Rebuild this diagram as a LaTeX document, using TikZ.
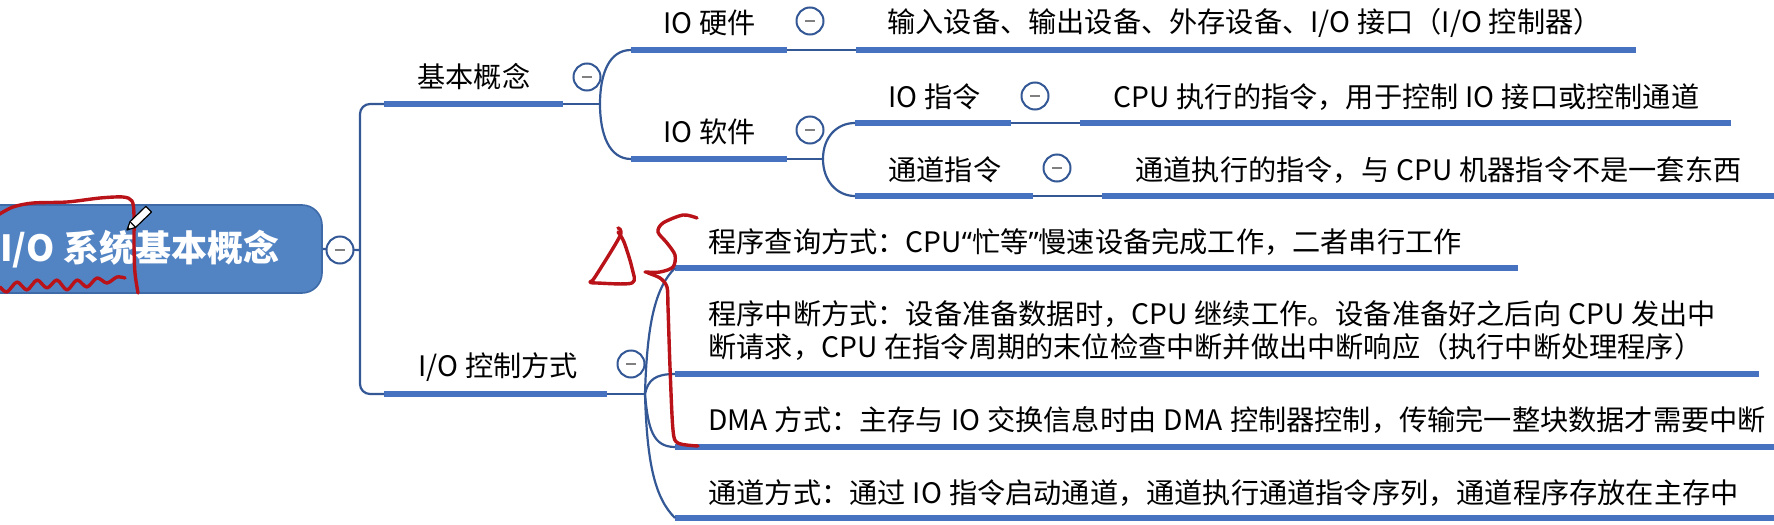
\documentclass[tikz,border=0pt]{standalone}
\usepackage{fontspec}
\usepackage{xcolor}
\usetikzlibrary{positioning,calc}
\newfontfamily\cjk{Noto Sans CJK SC}
\newfontfamily\quotefont{Noto Sans}
\newcommand{\kgap}{\hspace{0.25em}}
\definecolor{barblue}{RGB}{70,114,192}
\definecolor{linkblue}{RGB}{52,88,150}
\definecolor{rootblue}{RGB}{82,132,196}
\definecolor{rootedge}{RGB}{62,106,168}
\definecolor{inkred}{RGB}{185,18,24}
\tikzset{
	bar/.style={line width=3.4pt,barblue},
	link/.style={line width=1.1pt,linkblue},
	topic/.style={anchor=west,inner sep=0pt,font=\cjk\fontsize{14.1}{16.5}\selectfont},
	fold/.style={circle,draw=linkblue,line width=1pt,fill=white,minimum size=13.5pt,inner sep=0pt,
		path picture={\draw[gray,line width=1.3pt] ([xshift=-2.6pt]path picture bounding box.center) -- ([xshift=2.6pt]path picture bounding box.center);}},
	rootbox/.style={rounded corners=10pt,fill=rootblue,draw=rootedge,line width=0.8pt,minimum width=182pt,minimum height=44pt,text=white,font=\cjk\bfseries\fontsize{18}{20}\selectfont},
	ink/.style={inkred,line width=1.7pt,line cap=round,line join=round},
}

\begin{document}
\begin{tikzpicture}[x=0.5pt,y=-0.5pt]
	\useasboundingbox (0,0) rectangle (1774,525);
	\clip (0,0) rectangle (1774,525);
	\fill[white] (0,0) rectangle (1774,525);
	%%%%% root
	\node[rootbox] (sys) at (140,249) {I/O\kgap 系统基本概念};
	\coordinate (trunk) at (360,250);
	\coordinate (jc) at (600,104);
	\coordinate (js) at (823,159);
	\coordinate (jk) at (645,394);
	%%%%% topics
	\node[topic] (concept) at (417,77) {基本概念};
	\node[topic] (ctrl) at (418,367) {I/O\kgap 控制方式};
	\node[topic] (hw) at (663,23) {IO\kgap 硬件};
	\node[topic] (sw) at (663,132) {IO\kgap 软件};
	\node[topic] (hwtxt) at (887,23) {输入设备、输出设备、外存设备、I/O\kgap 接口（I/O\kgap 控制器）};
	\node[topic] (ioi) at (888,97) {IO\kgap 指令};
	\node[topic] (chi) at (888,170) {通道指令};
	\node[topic] (ioitxt) at (1113,97) {CPU\kgap 执行的指令，用于控制\kgap IO\kgap 接口或控制通道};
	\node[topic] (chitxt) at (1135,170) {通道执行的指令，与\kgap CPU\kgap 机器指令不是一套东西};
	\node[topic] (poll) at (708,242) {程序查询方式：CPU{\quotefont “}忙等{\quotefont ”}慢速设备完成工作，二者串行工作};
	\node[topic,align=left] (intr) at (708,331) {程序中断方式：设备准备数据时，CPU\kgap 继续工作。设备准备好之后向\kgap CPU\kgap 发出中\\断请求，CPU\kgap 在指令周期的末位检查中断并做出中断响应（执行中断处理程序）};
	\node[topic] (dma) at (708,420) {DMA\kgap 方式：主存与\kgap IO\kgap 交换信息时由\kgap DMA\kgap 控制器控制，传输完一整块数据才需要中断};
	\node[topic] (chan) at (708,493) {通道方式：通过\kgap IO\kgap 指令启动通道，通道执行通道指令序列，通道程序存放在主存中};
	%%%%% underline bars
	\foreach \n/\a/\b/\y in {concept/384/563/104, ctrl/384/607/394, hw/631/787/50, sw/631/787/159,
		hwtxt/856/1636/50, ioi/855/1011/123, chi/855/1033/196, ioitxt/1080/1731/123, chitxt/1102/1790/196,
		poll/675/1518/268, intr/675/1759/374, dma/675/1790/447, chan/675/1790/518}{
		\coordinate (\n-a) at (\a,\y);
		\coordinate (\n-b) at (\b,\y);
		\draw[bar] (\n-a) -- (\n-b);
	}
	%%%%% links
	\draw[link] (sys.east) -- (trunk);
	\draw[link,rounded corners=5pt] (concept-a) -| (trunk) |- (ctrl-a);
	\draw[link] (concept-b) -- (jc);
	\draw[link] (jc) .. controls +(0,-30) and +(-22,0) .. (hw-a);
	\draw[link] (jc) .. controls +(0,30) and +(-22,0) .. (sw-a);
	\draw[link] (hw-b) -- (hwtxt-a);
	\draw[link] (sw-b) -- (js);
	\draw[link] (js) .. controls +(0,-22) and +(-18,0) .. (ioi-a);
	\draw[link] (js) .. controls +(0,22) and +(-18,0) .. (chi-a);
	\draw[link] (ioi-b) -- (ioitxt-a);
	\draw[link] (chi-b) -- (chitxt-a);
	\draw[link] (ctrl-b) -- (jk);
	\draw[link] (jk) .. controls +(2,-70) and +(-20,20) .. (poll-a);
	\draw[link] (jk) .. controls +(3,-14) and +(-20,0) .. (intr-a);
	\draw[link] (jk) .. controls +(3,35) and +(-22,0) .. (dma-a);
	\draw[link] (jk) .. controls +(2,70) and +(-20,-20) .. (chan-a);
	%%%%% fold buttons
	\node[fold] (sysfold) at (340,250) {};
	\node[fold] (conceptfold) at (587,77) {};
	\node[fold] (ctrlfold) at (631,364) {};
	\node[fold] (hwfold) at (810,21) {};
	\node[fold] (swfold) at (810,130) {};
	\node[fold] (ioifold) at (1035,96) {};
	\node[fold] (chifold) at (1057,168) {};
	%%%%% red pen marks
	\draw[ink] plot[smooth] coordinates {(-2,215) (13,207) (33,203) (67,202) (100,198) (123,197) (132,201) (134,215) (134,247) (135,273) (138,293)};
	\draw[ink] plot[smooth] coordinates {(0,287) (7,292) (17,282) (27,290) (37,280) (47,288) (57,280) (67,290) (77,280) (87,287) (97,278) (107,283) (117,277) (125,278)};
	\draw[ink] plot[smooth] coordinates {(618,228) (620,236) (595,277) (590,282) (597,283) (632,283) (632,268) (624,242) (618,232)};
	\draw[ink] plot[smooth] coordinates {(697,218) (683,215) (663,223) (658,232) (667,243) (675,255) (673,267) (660,272) (645,272)};
	\draw[ink] plot[smooth] coordinates {(648,273) (660,278) (667,287) (668,307) (670,367) (673,430) (678,443) (698,446)};
	%%%%% pencil
	\filldraw[fill=white,draw=black,line width=0.6pt,line join=round] (127,230) -- (135.6,227.4) -- (151.5,212.1) -- (145.9,206.3) -- (130.0,221.6) -- cycle;
	\draw[line width=0.6pt] (135.6,227.4) -- (130.0,221.6);
	\fill (127,230) -- (130,229.1) -- (128,226.8) -- cycle;
\end{tikzpicture}
\end{document}
